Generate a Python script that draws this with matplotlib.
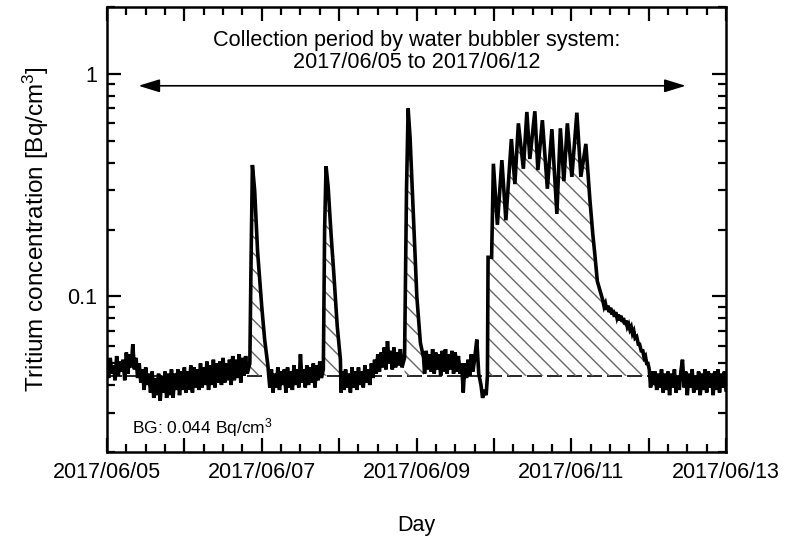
import numpy as np
import matplotlib
matplotlib.use("Agg")
import matplotlib.pyplot as plt
import matplotlib.dates as mdates
from matplotlib.ticker import FuncFormatter, LogLocator, NullFormatter

plt.rcParams['font.family'] = ['Liberation Sans', 'DejaVu Sans']
plt.rcParams['mathtext.fontset'] = 'custom'
plt.rcParams['mathtext.rm'] = 'Liberation Sans'
plt.rcParams['mathtext.it'] = 'Liberation Sans'
plt.rcParams['hatch.linewidth'] = 1.0

# ---- data: hours since 2017/06/05 00:00, tritium concentration [Bq/cm3] ----
# noisy baseline stretches, sampled every half hour
base_a_start = 0.0
base_a = [0.051, 0.043, 0.053, 0.045, 0.049, 0.042, 0.054, 0.044, 0.051, 0.046, 0.052, 0.042,
          0.056, 0.045, 0.055, 0.048, 0.061, 0.047, 0.053, 0.043, 0.050, 0.041, 0.047, 0.038,
          0.048, 0.040, 0.045, 0.037, 0.046, 0.035, 0.043, 0.036, 0.045, 0.034, 0.044, 0.037,
          0.046, 0.035, 0.045, 0.036, 0.047, 0.035, 0.045, 0.038, 0.047, 0.036, 0.046, 0.038,
          0.048, 0.037, 0.046, 0.038, 0.049, 0.037, 0.048, 0.039, 0.047, 0.038, 0.050, 0.039,
          0.048, 0.040, 0.051, 0.038, 0.049, 0.040, 0.052, 0.039, 0.050, 0.041, 0.051, 0.040,
          0.053, 0.041, 0.050, 0.042, 0.052, 0.040, 0.054, 0.042, 0.052, 0.043, 0.055, 0.041,
          0.053, 0.044, 0.054, 0.045]
peak1_h = [44.3, 44.7, 45.1, 45.8, 46.7, 48.0, 48.9, 49.9]
peak1_c = [0.050, 0.15, 0.39, 0.30, 0.16, 0.090, 0.064, 0.049]
base_b_start = 50.5
base_b = [0.039, 0.047, 0.037, 0.045, 0.039, 0.048, 0.038, 0.046, 0.040, 0.047, 0.037, 0.048,
          0.039, 0.046, 0.038, 0.049, 0.040, 0.047, 0.039, 0.055, 0.041, 0.047, 0.039, 0.049,
          0.040, 0.048, 0.041, 0.050, 0.039, 0.049, 0.042, 0.051, 0.043]
peak2_h = [67.1, 67.5, 67.95, 68.6, 69.5, 70.3, 71.4, 72.4, 72.6, 72.9]
peak2_c = [0.047, 0.20, 0.385, 0.31, 0.19, 0.13, 0.074, 0.052, 0.037, 0.046]
base_c_start = 73.5
base_c = [0.038, 0.047, 0.039, 0.045, 0.037, 0.048, 0.039, 0.046, 0.038, 0.048, 0.040, 0.046,
          0.039, 0.049, 0.041, 0.047, 0.040, 0.050, 0.043, 0.052, 0.045, 0.055, 0.046, 0.056,
          0.048, 0.059, 0.047, 0.063, 0.050, 0.057, 0.047, 0.059, 0.048, 0.056, 0.049, 0.058,
          0.048]
peak3_h = [92.3, 92.9, 93.4, 94.0, 95.0, 96.1, 97.2, 98.2]
peak3_c = [0.053, 0.30, 0.70, 0.52, 0.24, 0.10, 0.062, 0.053]
base_d_start = 98.5
base_d = [0.045, 0.057, 0.047, 0.055, 0.046, 0.058, 0.045, 0.056, 0.047, 0.055, 0.044, 0.057,
          0.046, 0.058, 0.045, 0.055, 0.047, 0.057, 0.045, 0.056, 0.046, 0.054, 0.045]
dip_h = [110, 110.5, 111, 111.5, 112, 112.5, 113, 113.5, 114, 114.7, 115.3, 116, 116.5, 117,
         117.6, 118.0]
dip_c = [0.050, 0.037, 0.050, 0.043, 0.052, 0.044, 0.055, 0.046, 0.052, 0.064, 0.045, 0.040,
         0.035, 0.038, 0.036, 0.044]
plateau_h = [118.2, 119.3, 119.85, 121.09, 122.48, 123.72, 125.43, 126.51, 127.60, 129.15,
             130.23, 131.16, 132.71, 133.64, 135.04, 136.59, 137.99, 139.54, 140.62, 141.71,
             142.79, 144.19, 145.74, 146.98, 148.53, 149.76, 150.69, 151.31, 152.09]
plateau_c = [0.150, 0.150, 0.395, 0.21, 0.41, 0.22, 0.51, 0.32, 0.60, 0.375,
             0.675, 0.415, 0.68, 0.37, 0.62, 0.305, 0.565, 0.235, 0.57, 0.33,
             0.60, 0.345, 0.67, 0.345, 0.485, 0.275, 0.19, 0.155, 0.117]
decay_h = [153.8, 154.2, 154.6, 155.0, 155.4, 155.8, 156.2, 156.6, 157.0, 157.4, 157.8, 158.2,
           158.6, 159.0, 159.4, 159.8, 160.2, 160.6, 161.0, 161.4, 161.8, 162.2, 162.6, 163.0,
           163.4, 163.8, 164.3, 164.8, 165.2, 165.7, 166.2, 166.6, 167.0, 167.4, 167.8, 168.2,
           168.6, 169.0]
decay_c = [0.096, 0.090, 0.093, 0.087, 0.091, 0.085, 0.089, 0.083, 0.087, 0.081, 0.085, 0.080,
           0.083, 0.078, 0.082, 0.077, 0.080, 0.075, 0.078, 0.073, 0.075, 0.071, 0.073, 0.068,
           0.070, 0.065, 0.066, 0.061, 0.061, 0.057, 0.057, 0.053, 0.054, 0.050, 0.050, 0.047,
           0.039, 0.046]
base_e_start = 169.5
base_e = [0.040, 0.046, 0.038, 0.045, 0.039, 0.047, 0.037, 0.045, 0.038, 0.046, 0.036, 0.045,
          0.039, 0.047, 0.037, 0.044, 0.038, 0.046, 0.052, 0.039, 0.046, 0.036, 0.045, 0.039,
          0.047, 0.037, 0.044, 0.038, 0.046, 0.036, 0.045, 0.038, 0.047, 0.037, 0.046, 0.039,
          0.045, 0.036, 0.046, 0.038, 0.047, 0.037, 0.045, 0.039, 0.046, 0.038]
baseline_step_h = 0.5

bg_level = 0.044
peak_windows = [(44.0, 50.2), (66.8, 72.6), (92.1, 98.4), (117.9, 169.4)]
collection_start_h = 9.75
collection_end_h = 179.5
start_date = "2017-06-05"
end_date = "2017-06-13"


def regular(start, vals):
    return list(start + baseline_step_h * np.arange(len(vals))), list(vals)


pieces = [regular(base_a_start, base_a), (peak1_h, peak1_c),
          regular(base_b_start, base_b), (peak2_h, peak2_c),
          regular(base_c_start, base_c), (peak3_h, peak3_c),
          regular(base_d_start, base_d), (dip_h, dip_c), (plateau_h, plateau_c),
          (decay_h, decay_c), regular(base_e_start, base_e)]
h = np.concatenate([np.asarray(p[0], dtype=float) for p in pieces])
c = np.concatenate([np.asarray(p[1], dtype=float) for p in pieces])

# ---- plotting ----
t0 = mdates.date2num(np.datetime64(start_date))
t1 = mdates.date2num(np.datetime64(end_date))
x = t0 + h / 24.0

fig = plt.figure(figsize=(7.85, 5.44), dpi=100)
ax = fig.add_axes([107 / 785, 1 - 452 / 544, (726 - 107) / 785, (452 - 7) / 544])

ax.axhline(bg_level, color='black', lw=1.2, ls=(0, (9, 3)), zorder=1)

for a, b in peak_windows:
    m = (h >= a) & (h <= b)
    ax.fill_between(x[m], bg_level, c[m], where=c[m] > bg_level, interpolate=True,
                    facecolor='none', edgecolor='#666666', hatch='\\\\', linewidth=0,
                    zorder=2)

ax.plot(x, c, color='black', lw=2.6, solid_joinstyle='miter', zorder=3)

ax.set_yscale('log')
ax.set_ylim(0.02, 2)
ax.set_xlim(t0, t1)

ax.yaxis.set_major_locator(LogLocator(base=10, numticks=10))
ax.yaxis.set_major_formatter(FuncFormatter(lambda v, p: f"{v:g}"))
ax.yaxis.set_minor_locator(LogLocator(base=10, subs=np.arange(2, 10), numticks=20))
ax.yaxis.set_minor_formatter(NullFormatter())

ax.xaxis.set_major_locator(mdates.DayLocator())
ax.xaxis.set_minor_locator(mdates.HourLocator(byhour=[6, 12, 18]))
ax.xaxis.set_major_formatter(FuncFormatter(
    lambda v, p: mdates.num2date(v).strftime('%Y/%m/%d') if mdates.num2date(v).day % 2 == 1 else ''))

ax.tick_params(which='both', direction='in', top=True, right=True, width=1.6, labelsize=15.5)
ax.tick_params(which='major', length=10, pad=7)
ax.tick_params(which='minor', length=6)
for s in ax.spines.values():
    s.set_linewidth(1.8)

ax.set_xlabel('Day', fontsize=15.5, labelpad=23)
ax.set_ylabel('Tritium concentration [Bq/cm$^3$]', fontsize=17.5, labelpad=12)

ax.annotate('', xy=(t0 + collection_start_h / 24, 0.885), xytext=(t0 + collection_end_h / 24, 0.885),
            arrowprops=dict(arrowstyle='<|-|>,head_length=1.3,head_width=0.4', color='black',
                            lw=1.2, mutation_scale=10, shrinkA=0, shrinkB=0))
ax.text(0.5, 0.90, 'Collection period by water bubbler system:\n2017/06/05 to 2017/06/12',
        transform=ax.transAxes, ha='center', va='center', fontsize=15.6, linespacing=1.1)
ax.text(0.04, 0.054, 'BG: 0.044 Bq/cm$^3$', transform=ax.transAxes, ha='left', va='center',
        fontsize=12.5)

fig.savefig('out.png', dpi=100)
